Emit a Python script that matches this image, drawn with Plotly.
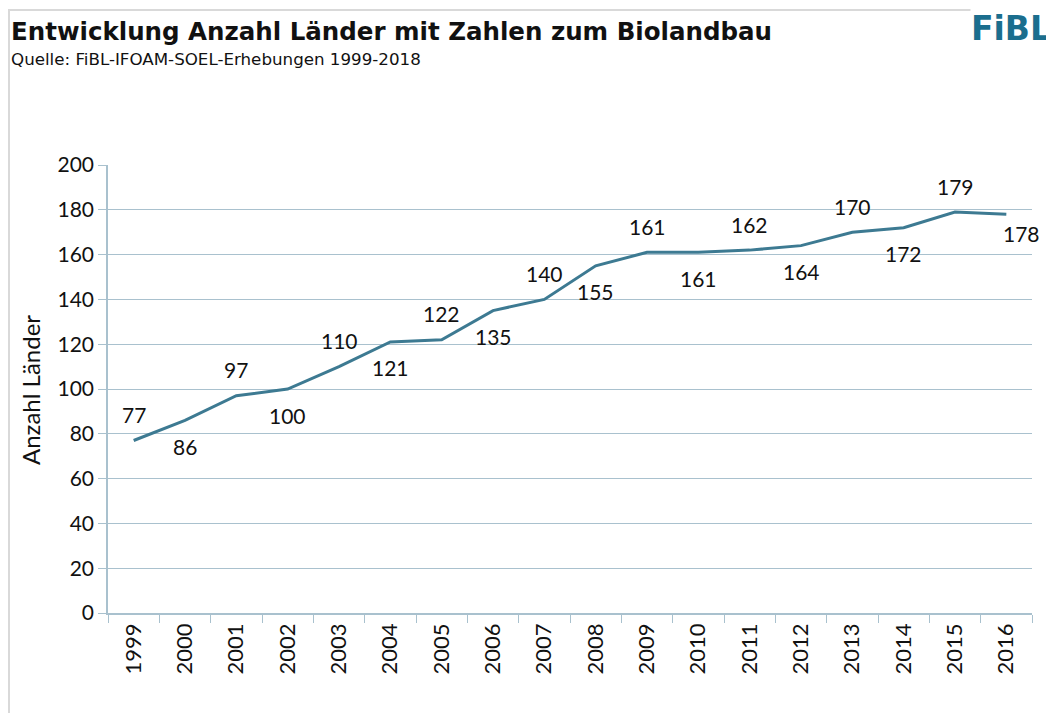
import plotly.graph_objects as go

years = ["1999","2000","2001","2002","2003","2004","2005","2006","2007","2008",
         "2009","2010","2011","2012","2013","2014","2015","2016"]
countries = [77, 86, 97, 100, 110, 121, 122, 135, 140, 155, 161, 161, 162, 164, 170, 172, 179, 178]
label_side = ["up","down","up","down","up","down","up","down","up","down",
              "up","down","up","down","up","down","up","right"]

line_color = "#3D7A92"
grid_color = "#A9C1CE"
font_family = "Lato, 'Open Sans', sans-serif"

# The page body adds an 8px margin; the figure is sized so the page matches 1054x713.
OFF = 8
PAGE_W, PAGE_H = 1054, 713
W, H = PAGE_W - OFF, PAGE_H - OFF
# plot area in page pixels: x 108..1032, y 165..613
L, T = 108 - OFF, 165 - OFF
R = W - (1032 - OFF)
B = H - (613 - OFF)
pw, ph = W - L - R, H - T - B


def px(x):
    return (x - OFF - L) / pw


def py(y):
    return (H - B - (y - OFF)) / ph


fig = go.Figure()
fig.add_trace(go.Scatter(x=years, y=countries, mode="lines",
                         line=dict(color=line_color, width=3), hoverinfo="x+y"))

annotations = []
for i, (v, s) in enumerate(zip(countries, label_side)):
    if s == "up":
        xs, ys = 0, 26
    elif s == "down":
        xs, ys = 0, -26
    else:
        xs, ys = 15, -19
    annotations.append(dict(x=i, y=v, xref="x", yref="y", text=str(v), showarrow=False,
                            xshift=xs, yshift=ys,
                            font=dict(size=21, color="#111111", family=font_family)))

annotations.append(dict(xref="paper", yref="paper", x=px(9), y=py(31), xanchor="left", yanchor="middle",
                        text="<b>Entwicklung Anzahl Länder mit Zahlen zum Biolandbau</b>", showarrow=False,
                        font=dict(size=24.5, color="#111111", family="'DejaVu Sans', sans-serif")))
annotations.append(dict(xref="paper", yref="paper", x=px(9), y=py(59), xanchor="left", yanchor="middle",
                        text="Quelle: FiBL-IFOAM-SOEL-Erhebungen 1999-2018", showarrow=False,
                        font=dict(size=16.7, color="#111111", family="'DejaVu Sans', sans-serif")))
annotations.append(dict(xref="paper", yref="paper", x=px(1052), y=py(28), xanchor="right", yanchor="middle",
                        text="<b>FiBL</b>", showarrow=False, bgcolor="white", borderpad=0,
                        font=dict(size=33, color="#1B6E8E", family="'DejaVu Sans', sans-serif")))
annotations.append(dict(xref="paper", yref="paper", x=px(30), y=py(390), xanchor="center", yanchor="middle",
                        text="Anzahl Länder", showarrow=False, textangle=-90,
                        font=dict(size=24, color="#111111", family=font_family)))

fig.update_layout(
    width=W, height=H,
    margin=dict(l=L, r=R, t=T, b=B, autoexpand=False),
    paper_bgcolor="white", plot_bgcolor="white",
    showlegend=False,
    font=dict(family=font_family, color="#111111"),
    xaxis=dict(type="category", tickangle=-90, tickfont=dict(size=22, color="#111111"),
               showgrid=False, showline=True, linecolor=grid_color, linewidth=1.5,
               ticks="outside", ticklen=8, tickcolor=grid_color, tickson="boundaries",
               range=[-0.5, 17.5], automargin=False),
    yaxis=dict(range=[0, 200], dtick=20, tickfont=dict(size=21, color="#111111"),
               showgrid=True, gridcolor=grid_color, gridwidth=1.2,
               showline=True, linecolor=grid_color, linewidth=1.5,
               ticks="outside", ticklen=8, tickcolor=grid_color,
               zeroline=False, automargin=False),
    annotations=annotations,
    shapes=[dict(type="rect", xref="paper", yref="paper", x0=px(9), x1=px(1080), y0=py(740), y1=py(10),
                 line=dict(color="#D9D9D9", width=2), fillcolor="rgba(0,0,0,0)", layer="below")],
)

fig.write_html("out.html")
